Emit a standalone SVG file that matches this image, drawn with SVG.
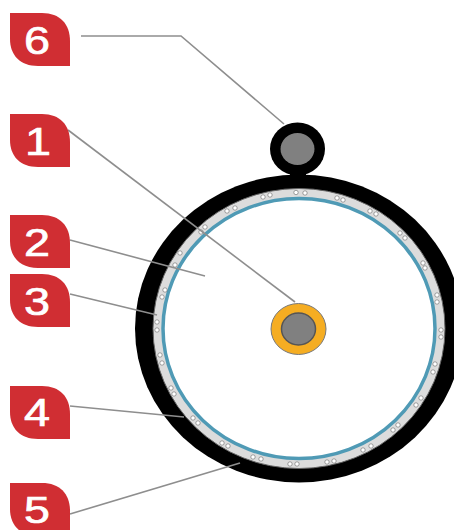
<svg xmlns="http://www.w3.org/2000/svg" width="454" height="530" viewBox="0 0 454 530">
<style>
.badge{fill:#d02e33}
.num{font-family:"Liberation Sans",Arial,sans-serif;font-size:39px;fill:#fff;stroke:#fff;stroke-width:.7;text-anchor:middle}
.conn{fill:none;stroke:#8e8e8e;stroke-width:1.6;mix-blend-mode:multiply}
.bead{fill:#fff;stroke:#666;stroke-width:.6}
</style>
<defs>
<path id="leaf" class="badge" d="M10 0H42C60 0 70 11 70 28V53H38C20 53 10 42 10 26Z"/>
<filter id="soft" x="-5%" y="-5%" width="110%" height="110%"><feGaussianBlur stdDeviation="0.7"/></filter>
</defs>
<rect width="454" height="530" fill="#fff"/>
<g id="cable" filter="url(#soft)">
<ellipse cx="299" cy="328.500" rx="164" ry="154" fill="#000"/>
<ellipse cx="299" cy="328.500" rx="146" ry="140" fill="#dcdcdc" stroke="#666" stroke-width="1"/>
<ellipse cx="299" cy="328.500" rx="136" ry="130" fill="#fff" stroke="#4f9ab5" stroke-width="3.500"/>
<g id="beads">
<circle class="bead" cx="296" cy="192.500" r="2.200"/><circle class="bead" cx="305" cy="193" r="2.200"/>
<circle class="bead" cx="337" cy="198" r="2.200"/><circle class="bead" cx="343" cy="200" r="2.200"/>
<circle class="bead" cx="370" cy="211" r="2.200"/><circle class="bead" cx="376" cy="214" r="2.200"/>
<circle class="bead" cx="400" cy="233" r="2.200"/><circle class="bead" cx="405" cy="238" r="2.200"/>
<circle class="bead" cx="423" cy="263" r="2.200"/><circle class="bead" cx="425" cy="268" r="2.200"/>
<circle class="bead" cx="437" cy="295" r="2.200"/><circle class="bead" cx="437" cy="302" r="2.200"/>
<circle class="bead" cx="441" cy="330" r="2.200"/><circle class="bead" cx="441" cy="337" r="2.200"/>
<circle class="bead" cx="435" cy="364" r="2.200"/><circle class="bead" cx="433" cy="372" r="2.200"/>
<circle class="bead" cx="421" cy="398" r="2.200"/><circle class="bead" cx="416" cy="405" r="2.200"/>
<circle class="bead" cx="398" cy="425" r="2.200"/><circle class="bead" cx="393" cy="430" r="2.200"/>
<circle class="bead" cx="371" cy="446" r="2.200"/><circle class="bead" cx="363" cy="450" r="2.200"/>
<circle class="bead" cx="334" cy="461" r="2.200"/><circle class="bead" cx="327" cy="462" r="2.200"/>
<circle class="bead" cx="297" cy="464" r="2.200"/><circle class="bead" cx="290" cy="464" r="2.200"/>
<circle class="bead" cx="261" cy="459" r="2.200"/><circle class="bead" cx="253" cy="457" r="2.200"/>
<circle class="bead" cx="228" cy="446" r="2.200"/><circle class="bead" cx="222" cy="443" r="2.200"/>
<circle class="bead" cx="198" cy="423" r="2.200"/><circle class="bead" cx="193" cy="418" r="2.200"/>
<circle class="bead" cx="174" cy="394" r="2.200"/><circle class="bead" cx="171" cy="388" r="2.200"/>
<circle class="bead" cx="162" cy="363" r="2.200"/><circle class="bead" cx="160" cy="355" r="2.200"/>
<circle class="bead" cx="157" cy="330" r="2.200"/><circle class="bead" cx="157" cy="322" r="2.200"/>
<circle class="bead" cx="162" cy="297" r="2.200"/><circle class="bead" cx="165" cy="290" r="2.200"/>
<circle class="bead" cx="175" cy="265" r="2.200"/><circle class="bead" cx="180" cy="253" r="2.200"/>
<circle class="bead" cx="201" cy="232" r="2.200"/><circle class="bead" cx="205" cy="227" r="2.200"/>
<circle class="bead" cx="227" cy="211" r="2.200"/><circle class="bead" cx="235" cy="208" r="2.200"/>
<circle class="bead" cx="263" cy="197" r="2.200"/><circle class="bead" cx="270" cy="195" r="2.200"/>
</g>
</g>
<g id="connectors" filter="url(#soft)">
<polyline class="conn" points="81,36 181,36 284,124"/>
<line class="conn" x1="68" y1="130" x2="295" y2="302"/>
<line class="conn" x1="70" y1="240" x2="205" y2="276"/>
<line class="conn" x1="70" y1="294" x2="157" y2="315"/>
<line class="conn" x1="70" y1="406" x2="184" y2="417"/>
<line class="conn" x1="70" y1="514" x2="240" y2="463"/>
</g>
<g id="core" filter="url(#soft)">
<ellipse cx="298.500" cy="329" rx="27.500" ry="25.500" fill="#f5ad24" stroke="#777" stroke-width="1"/>
<ellipse cx="298.500" cy="329" rx="17" ry="16" fill="#808080" stroke="#555" stroke-width="1.500"/>
</g>
<g id="pilot" filter="url(#soft)">
<ellipse cx="297.500" cy="149" rx="27.500" ry="26.500" fill="#000"/>
<ellipse cx="297.500" cy="149" rx="17" ry="16" fill="#808080"/>
<path d="M290 172H306V178H290Z" fill="#000"/>
</g>
<g id="n6"><use href="#leaf" y="13"/><text class="num" transform="translate(37 53.500) scale(1.2 1)">6</text></g>
<g id="n1"><use href="#leaf" y="114"/><text class="num" transform="translate(38 154.500) scale(1.2 1)">1</text></g>
<g id="n2"><use href="#leaf" y="215"/><text class="num" transform="translate(37 255.500) scale(1.2 1)">2</text></g>
<g id="n3"><use href="#leaf" y="274"/><text class="num" transform="translate(37 314.500) scale(1.2 1)">3</text></g>
<g id="n4"><use href="#leaf" y="386"/><text class="num" transform="translate(37 426) scale(1.2 1)">4</text></g>
<g id="n5"><use href="#leaf" y="483"/><text class="num" style="font-size:37px" transform="translate(37 522.500) scale(1.26 1)">5</text></g>
</svg>
